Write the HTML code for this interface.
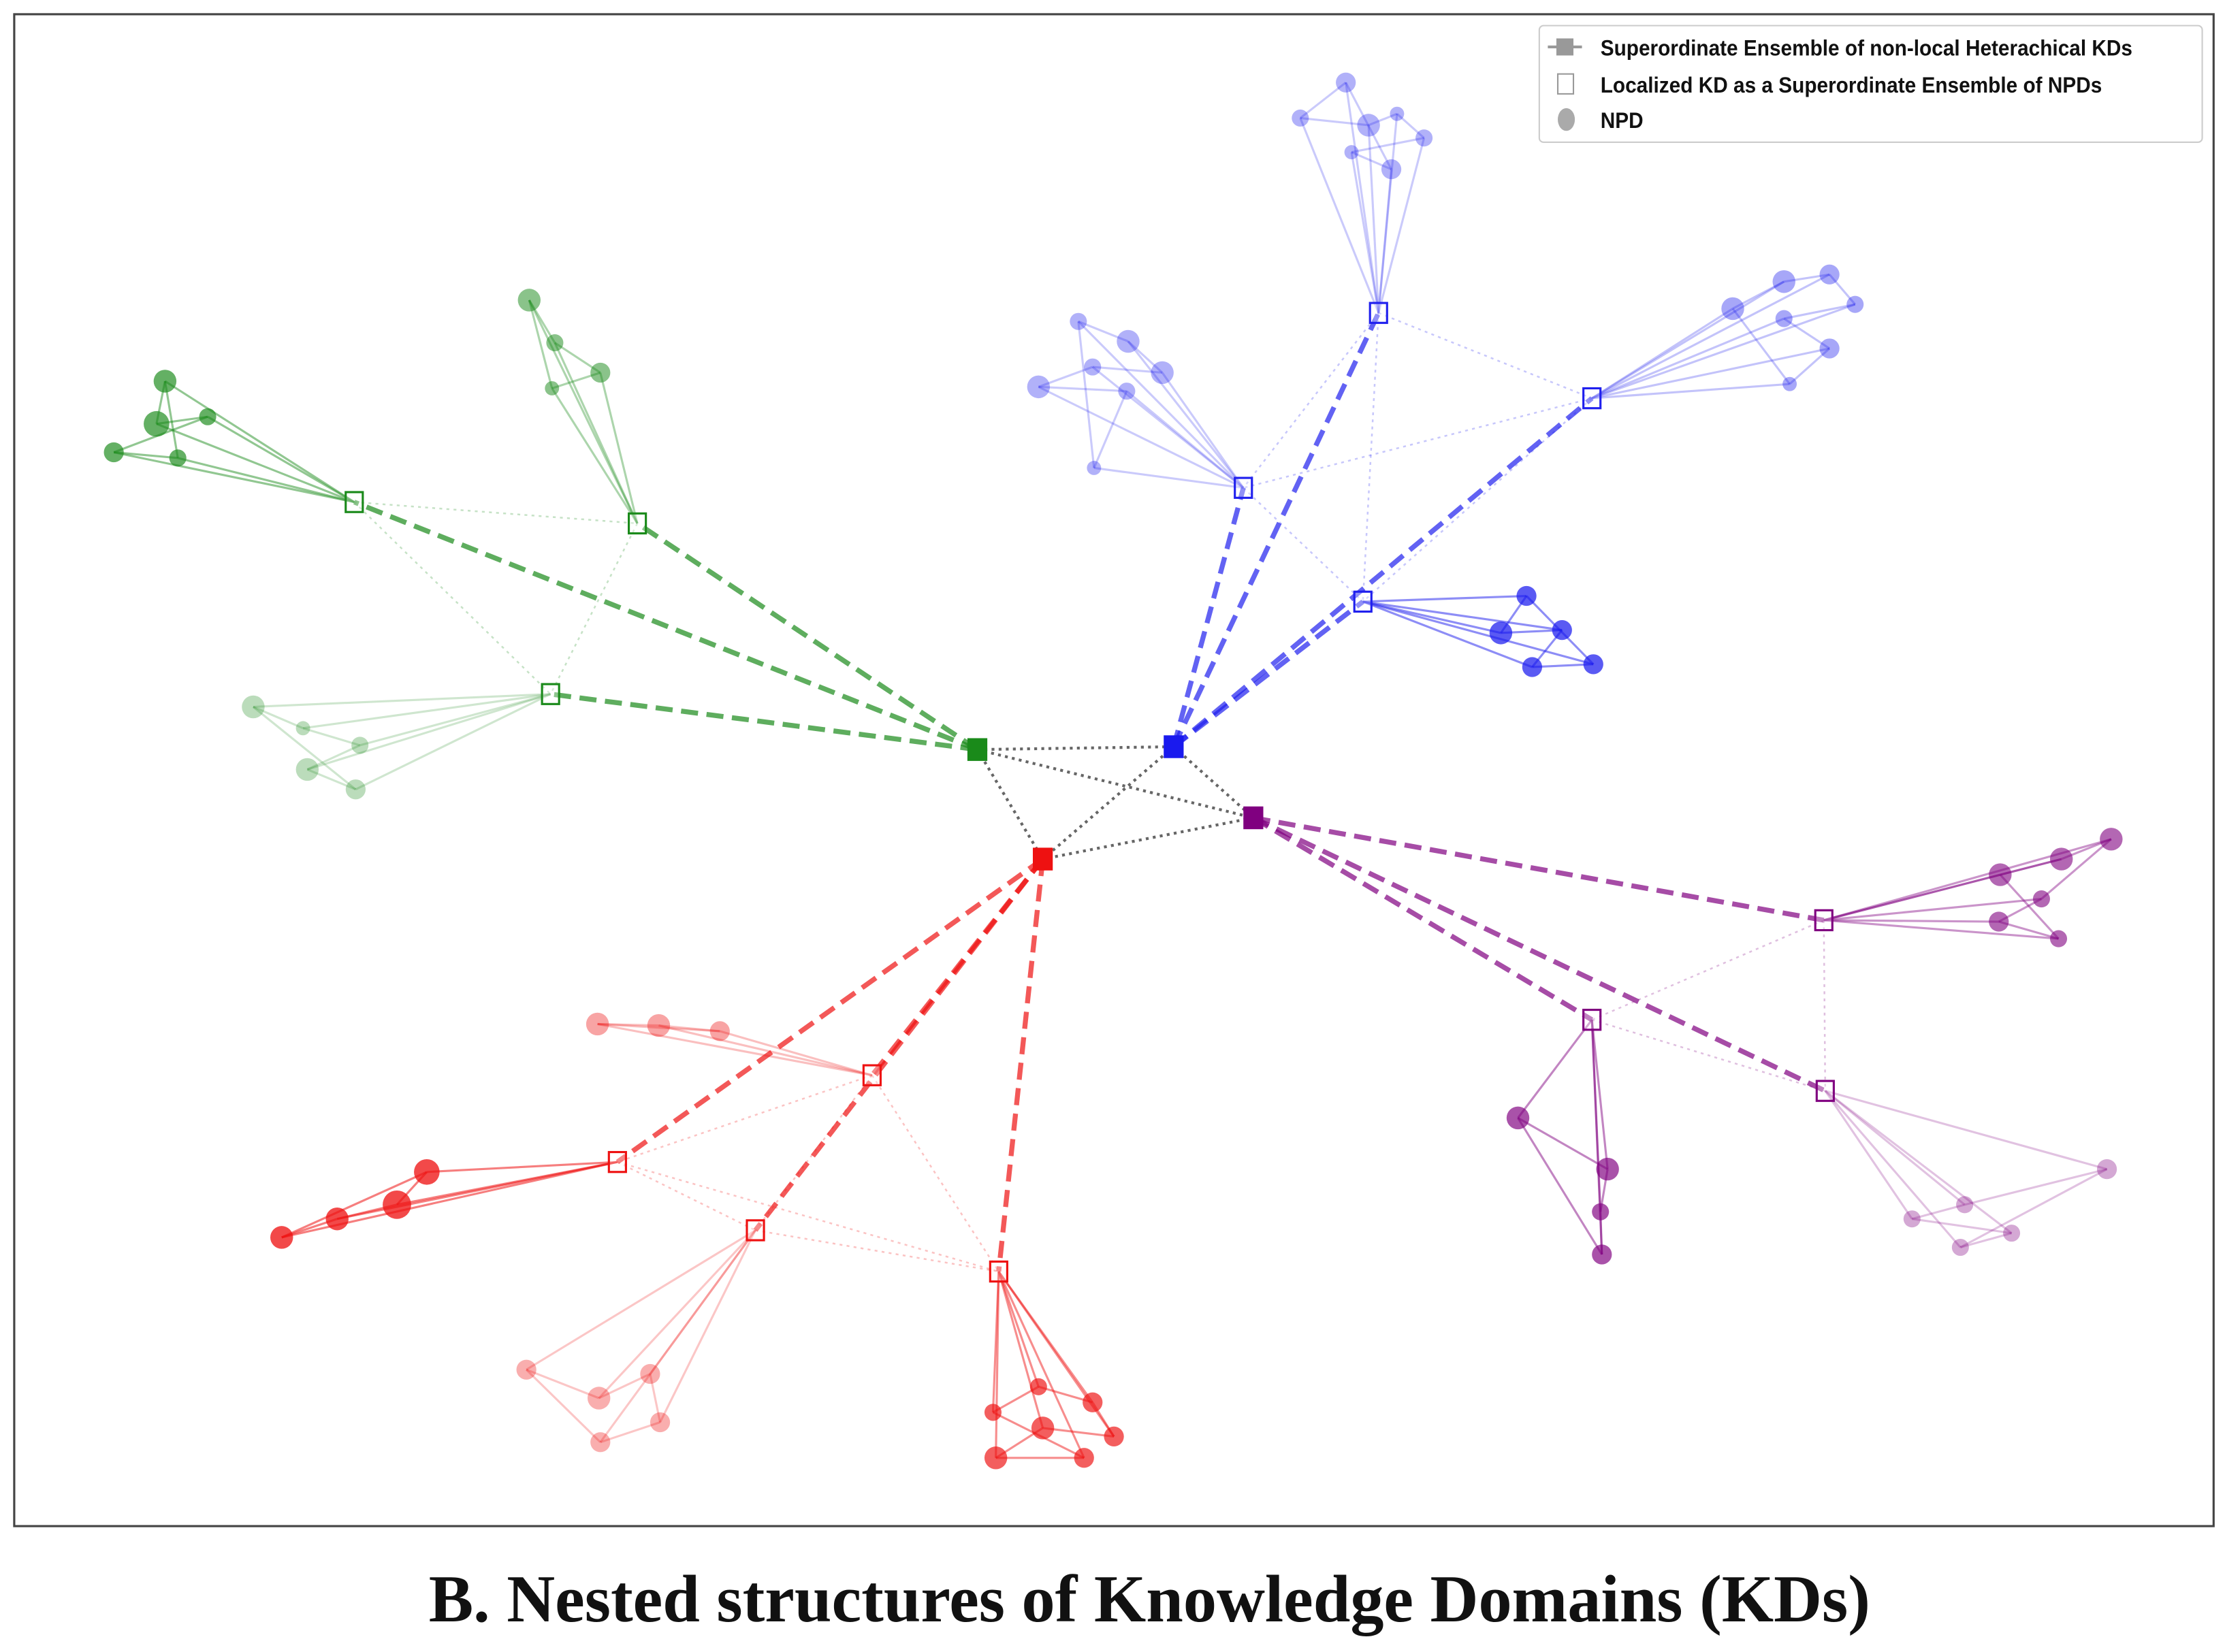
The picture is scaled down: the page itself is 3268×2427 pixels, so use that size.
<!DOCTYPE html>
<html><head><meta charset="utf-8"><style>
html,body{margin:0;padding:0;background:#fff;}
body{width:3268px;height:2427px;overflow:hidden;}
svg{display:block;}
</style></head><body>
<svg id="s" width="3268" height="2427" viewBox="0 0 1564 1161.5" xmlns="http://www.w3.org/2000/svg">
<rect x="0" y="0" width="1564" height="1162" fill="#fff"/>
<rect x="10" y="10" width="1546" height="1063" fill="#fff" stroke="#444" stroke-width="1.5"/>
<g id="g"></g>
<rect x="1082" y="18" width="466" height="82" rx="3" fill="#fff" stroke="#ccc" stroke-width="1"/>
<line x1="1088" y1="33" x2="1112" y2="33" stroke="#999" stroke-width="2"/>
<rect x="1094" y="27" width="12" height="12" fill="#999"/>
<rect x="1095" y="52" width="11" height="14" fill="#fff" stroke="#999" stroke-width="1"/>
<ellipse cx="1101" cy="84" rx="6" ry="8" fill="#aaa"/>
<g font-family="Liberation Sans, sans-serif" font-weight="bold" font-size="15.5" fill="#111">
<text x="1125" y="39" transform="translate(1125 0) scale(0.92 1) translate(-1125 0)">Superordinate Ensemble of non-local Heterachical KDs</text>
<text x="1125" y="65" transform="translate(1125 0) scale(0.92 1) translate(-1125 0)">Localized KD as a Superordinate Ensemble of NPDs</text>
<text x="1125" y="90" transform="translate(1125 0) scale(0.92 1) translate(-1125 0)">NPD</text>
</g>
<text x="808" y="1140" text-anchor="middle" font-family="Liberation Serif, serif" font-weight="bold" font-size="47" fill="#111">B. Nested structures of Knowledge Domains (KDs)</text>
</svg>
<script>
var g=document.getElementById('g'),NS='http://www.w3.org/2000/svg';
function el(t,a){var e=document.createElementNS(NS,t);for(var k in a)e.setAttribute(k,a[k]);g.appendChild(e);return e;}
function line(a,b,c,w,o,d){el('line',{x1:a[0],y1:a[1],x2:b[0],y2:b[1],stroke:c,'stroke-width':w,'stroke-opacity':o,'stroke-dasharray':d||''});}
var C={g:[687,527],b:[825,525],p:[881,575],r:[733,604]};
var col={g:'#1a8a1a',b:'#2020ee',p:'#800080',r:'#ee1111'};
var fill={g:'#1a8a1a',b:'#1a1aee',p:'#800080',r:'#ee1111'};
var D={
g:{k:[[249,353],[448,368],[387,488]],n:[
 [[116,268,8],[110,298,9],[146,293,6],[80,318,7],[125,322,6]],
 [[372,211,8],[390,241,6],[422,262,7],[388,273,5]],
 [[178,497,8],[213,512,5],[253,524,6],[216,541,8],[250,555,7]]],op:[0.8,0.6,0.35]},
b:{k:[[969,220],[1119,280],[874,343],[958,423]],n:[
 [[946,58,7],[914,83,6],[962,88,8],[982,80,5],[1001,97,6],[950,107,5],[978,119,7]],
 [[1218,217,8],[1254,198,8],[1286,193,7],[1304,214,6],[1254,224,6],[1286,245,7],[1258,270,5]],
 [[758,226,6],[793,240,8],[817,262,8],[768,258,6],[730,272,8],[792,275,6],[769,329,5]],
 [[1073,419,7],[1055,445,8],[1098,443,7],[1077,469,7],[1120,467,7]]],op:[0.4,0.45,0.4,0.85]},
p:{k:[[1282,647],[1119,717],[1283,767]],n:[
 [[1406,615,8],[1449,604,8],[1484,590,8],[1435,632,6],[1405,648,7],[1447,660,6]],
 [[1067,786,8],[1130,822,8],[1125,852,6],[1126,882,7]],
 [[1481,822,7],[1381,847,6],[1344,857,6],[1414,867,6],[1378,877,6]]],op:[0.7,0.8,0.4]},
r:{k:[[613,756],[434,817],[531,865],[702,894]],n:[
 [[420,720,8],[463,721,8],[506,725,7]],
 [[300,824,9],[279,847,10],[237,857,8],[198,870,8]],
 [[370,963,7],[421,983,8],[457,966,7],[464,1000,7],[422,1014,7]],
 [[698,993,6],[730,975,6],[768,986,7],[783,1010,7],[733,1004,8],[700,1025,8],[762,1025,7]]],op:[0.45,0.9,0.4,0.8]}
};
var keys=['g','b','p','r'];
for(var i=0;i<4;i++)for(var j=i+1;j<4;j++)line(C[keys[i]],C[keys[j]],'#555',2,0.9,'2 3');
keys.forEach(function(k){
 var d=D[k];
 for(var i=0;i<d.k.length;i++)for(var j=i+1;j<d.k.length;j++)line(d.k[i],d.k[j],col[k],1.2,0.25,'2 3');
 d.k.forEach(function(kd,i){
  var o=d.op[i],ns=d.n[i];
  ns.forEach(function(n,a){
   line(kd,n,col[k],1.5,o*0.6);
   var m=ns[(a+1)%ns.length];line(n,m,col[k],1.5,o*0.6);
  });
  ns.forEach(function(n){el('circle',{cx:n[0],cy:n[1],r:n[2],fill:fill[k],'fill-opacity':o*0.85});});
  line(C[k],kd,col[k],3.5,0.7,'12 6');
 });
 d.k.forEach(function(kd){el('rect',{x:kd[0]-6,y:kd[1]-7,width:12,height:14,fill:'#fff','fill-opacity':0.3,stroke:col[k],'stroke-width':1.5});});
 el('rect',{x:C[k][0]-7,y:C[k][1]-8,width:14,height:16,fill:fill[k]});
});
</script>
</body></html>
